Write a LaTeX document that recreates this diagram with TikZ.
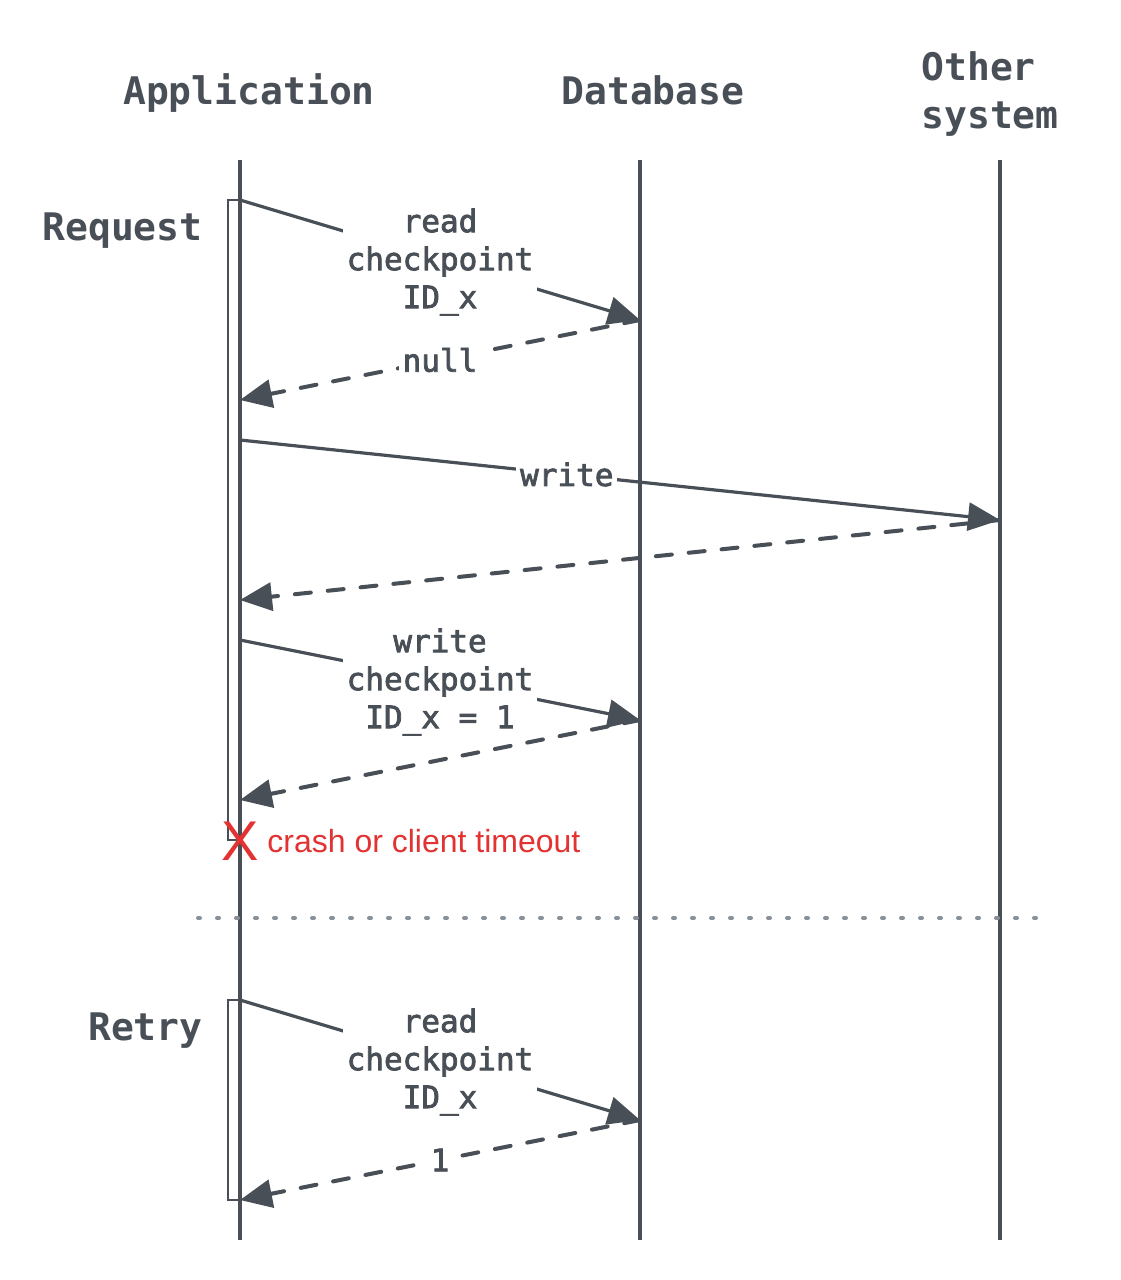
\documentclass[tikz,border=0pt]{standalone}
\usepackage{fontspec}
\setmonofont{DejaVu Sans Mono}
\newfontfamily\lblfont[FakeBold=2.5]{DejaVu Sans Mono}
\setsansfont{Liberation Sans}
\usetikzlibrary{arrows.meta}
\definecolor{ink}{RGB}{73,79,87}
\definecolor{crashred}{RGB}{226,50,50}
\definecolor{sepgray}{RGB}{136,144,152}
\begin{document}
\begin{tikzpicture}[x=0.5pt,y=-0.5pt,
  lifeline/.style={draw=ink,line width=1.6pt},
  head/.style={text=ink,font=\ttfamily\bfseries\fontsize{19}{23}\selectfont,anchor=base,inner sep=0pt},
  headleft/.style={head,anchor=base west},
  phase/.style={head,anchor=base east},
  msg/.style={draw=ink,line width=1.6pt,-{Triangle[length=16pt,width=14pt]}},
  reply/.style={msg,line width=2pt,line cap=round,dash pattern=on 8pt off 8.5pt},
  lbl/.style={text=ink,fill=white,font=\lblfont\fontsize{15.5}{19}\selectfont,align=center,inner sep=2pt},
  act/.style={draw=ink,line width=0.6pt,fill=white},
]
\useasboundingbox[fill=white] (0,0) rectangle (1120,1280);

% headers
\node[head] (happ) at (249,104) {Application};
\node[head] (hdb) at (653,104) {Database};
\node[headleft] (hoth1) at (921,80) {Other};
\node[headleft] (hoth2) at (921,128) {system};

% activation boxes
\draw[act] (228,200) rectangle (240,840);
\draw[act] (228,1000) rectangle (240,1200);

% lifelines
\coordinate (appTop) at (240,160); \coordinate (appBot) at (240,1240);
\coordinate (dbTop) at (640,160); \coordinate (dbBot) at (640,1240);
\coordinate (othTop) at (1000,160); \coordinate (othBot) at (1000,1240);
\draw[lifeline] (appTop) -- (appBot);
\draw[lifeline] (dbTop) -- (dbBot);
\draw[lifeline] (othTop) -- (othBot);

% phase labels
\node[phase] (req) at (203,240) {Request};
\node[phase] (retry) at (203,1040) {Retry};

% message points
\coordinate (a1) at (240,200); \coordinate (d1) at (640,320);
\coordinate (a2) at (240,400);
\coordinate (a3) at (240,440); \coordinate (o3) at (1000,520);
\coordinate (a4) at (240,600);
\coordinate (a5) at (240,640); \coordinate (d5) at (640,720);
\coordinate (a6) at (240,800);
\coordinate (a7) at (240,1000); \coordinate (d7) at (640,1120);
\coordinate (a8) at (240,1200);

\draw[msg] (a1) -- node[lbl,yshift=-1pt] (l1) {read\\checkpoint\\ID\_x} (d1);
\draw[reply] (d1) -- node[lbl] (l2) {null} (a2);
\draw[msg] (a3) -- node[lbl,pos=0.43] (l3) {write} (o3);
\draw[reply] (o3) -- (a4);
\draw[msg] (a5) -- node[lbl,yshift=-1pt] (l5) {write\\checkpoint\\ID\_x = 1} (d5);
\draw[reply] (d5) -- (a6);
\draw[msg] (a7) -- node[lbl,yshift=-1pt] (l7) {read\\checkpoint\\ID\_x} (d7);
\draw[reply] (d7) -- node[lbl] (l8) {1} (a8);

% crash
\node[text=crashred,font=\sffamily\fontsize{28}{30}\selectfont,anchor=base,inner sep=0pt] (cx) at (240,860) {X};
\node[text=crashred,font=\sffamily\fontsize{16}{19}\selectfont,anchor=base west,inner sep=0pt] (ct) at (267,852) {crash or client timeout};

% separator
\coordinate (sepL) at (198,918); \coordinate (sepR) at (1042,918);
\draw[sepgray,line width=2pt,line cap=round,dash pattern=on 1pt off 8.5pt] (sepL) -- (sepR);
\end{tikzpicture}
\end{document}
